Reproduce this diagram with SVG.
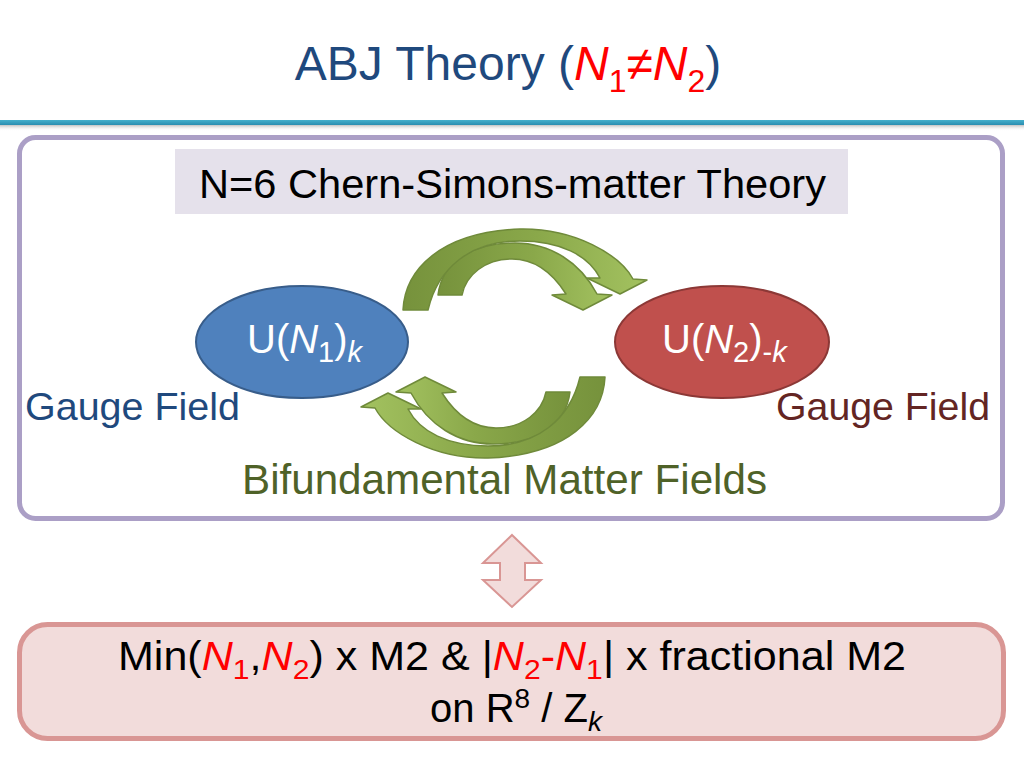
<svg xmlns="http://www.w3.org/2000/svg" width="1024" height="768" viewBox="0 0 1024 768">
<defs>
<style>
text{font-family:"Liberation Sans",Arial,sans-serif}
.red{fill:#ff0000}
.it{font-style:italic}
.arrow{stroke:#6f8a3a;stroke-width:1.5;fill:url(#gArrow);stroke-linejoin:round}
</style>
<linearGradient id="gArrow" x1="0" y1="0" x2="1" y2="0">
<stop offset="0" stop-color="#76923c"/>
<stop offset="0.55" stop-color="#8aa84a"/>
<stop offset="1" stop-color="#a3c260"/>
</linearGradient>
<linearGradient id="gLine" x1="0" y1="0" x2="0" y2="1">
<stop offset="0" stop-color="#45b0cc"/>
<stop offset="1" stop-color="#2a8db0"/>
</linearGradient>
<linearGradient id="gShadow" x1="0" y1="0" x2="0" y2="1">
<stop offset="0" stop-color="#9a9a9a" stop-opacity="0.6"/>
<stop offset="1" stop-color="#ffffff" stop-opacity="0"/>
</linearGradient>
<path id="arrOuter" d="M403 310 C405 270 440 232 520 229 C575 228 620 255 633 279 L647 280 L620 294 L587 278 L600 278 C588 255 560 241 520 241 C470 241 438 268 428 310 Z"/>
<path id="arrInner" d="M438 295 C442 262 472 243 515 243 C550 243 580 262 597 294 L612 295 L583 310 L552 295 L566 294 C552 272 535 259 512 259 C485 259 466 275 462 295 Z"/>
</defs>
<rect width="1024" height="768" fill="#ffffff"/>

<g id="title">
<text x="508" y="80" text-anchor="middle" font-size="48" fill="#1f497d">ABJ Theory (<tspan class="red it">N</tspan><tspan class="red" font-size="32" dy="12">1</tspan><tspan class="red" dy="-12">≠</tspan><tspan class="red it">N</tspan><tspan class="red" font-size="32" dy="12">2</tspan><tspan dy="-12">)</tspan></text>
</g>

<g id="header-line">
<rect x="0" y="125" width="1024" height="6" fill="url(#gShadow)"/>
<rect x="0" y="120" width="1024" height="5" fill="url(#gLine)"/>
</g>

<g id="theory-box">
<rect x="19.5" y="137.5" width="983" height="381" rx="16" fill="#ffffff" stroke="#ab9fc6" stroke-width="5"/>
</g>

<g id="theory-label">
<rect x="175" y="149" width="673" height="65" fill="#e5e1eb"/>
<text x="512.5" y="198" text-anchor="middle" font-size="41" textLength="627" lengthAdjust="spacingAndGlyphs" fill="#000000">N=6 Chern-Simons-matter Theory</text>
</g>

<g id="node-u1">
<ellipse cx="302" cy="342" rx="106" ry="56" fill="#4f81bd" stroke="#385d8a" stroke-width="2"/>
<text x="247" y="353" font-size="40" fill="#ffffff">U(<tspan class="it">N</tspan><tspan font-size="29" dy="9">1</tspan><tspan dy="-9">)</tspan><tspan class="it" font-size="29" dy="9">k</tspan></text>
</g>

<g id="node-u2">
<ellipse cx="722" cy="342" rx="107" ry="56" fill="#c0504d" stroke="#8c3836" stroke-width="2"/>
<text x="662" y="353" font-size="40" fill="#ffffff">U(<tspan class="it">N</tspan><tspan font-size="29" dy="9">2</tspan><tspan dy="-9">)</tspan><tspan font-size="29" dy="9">-</tspan><tspan class="it" font-size="29">k</tspan></text>
</g>

<g id="label-gauge-left">
<text x="25" y="420" font-size="39.5" textLength="215" lengthAdjust="spacingAndGlyphs" fill="#1f497d">Gauge Field</text>
</g>
<g id="label-gauge-right">
<text x="776" y="420" font-size="39.5" textLength="214" lengthAdjust="spacingAndGlyphs" fill="#632523">Gauge Field</text>
</g>
<g id="label-matter">
<text x="242" y="494" font-size="42" textLength="525" lengthAdjust="spacingAndGlyphs" fill="#4f6228">Bifundamental Matter Fields</text>
</g>

<g id="connectors">
<g id="arrows-top">
<use href="#arrInner" class="arrow"/>
<use href="#arrOuter" class="arrow"/>
</g>
<g id="arrows-bottom" transform="rotate(180 504 343.5)">
<use href="#arrInner" class="arrow"/>
<use href="#arrOuter" class="arrow"/>
</g>
<path id="double-arrow" d="M512 535 L541 563 L525 563 L525 580 L541 580 L512 607 L483 580 L500 580 L500 563 L483 563 Z" fill="#f2dcdb" stroke="#d99694" stroke-width="2" stroke-linejoin="miter"/>
</g>

<g id="m2-box">
<rect x="19.5" y="624.5" width="984" height="114" rx="28" fill="#f2dcdb" stroke="#d99694" stroke-width="5"/>
<text x="512" y="670" text-anchor="middle" font-size="40" textLength="788" lengthAdjust="spacingAndGlyphs" fill="#000000">Min(<tspan class="red it">N</tspan><tspan class="red" font-size="28" dy="9">1</tspan><tspan dy="-9">,</tspan><tspan class="red it">N</tspan><tspan class="red" font-size="28" dy="9">2</tspan><tspan dy="-9">) x M2 &amp; |</tspan><tspan class="red it">N</tspan><tspan class="red" font-size="28" dy="9">2</tspan><tspan class="red" dy="-9">-</tspan><tspan class="red it">N</tspan><tspan class="red" font-size="28" dy="9">1</tspan><tspan dy="-9">| x fractional M2</tspan></text>
<text x="516" y="722" text-anchor="middle" font-size="40" fill="#000000">on R<tspan font-size="28" dy="-14">8</tspan><tspan dy="14"> / Z</tspan><tspan class="it" font-size="28" dy="9">k</tspan></text>
</g>
</svg>
